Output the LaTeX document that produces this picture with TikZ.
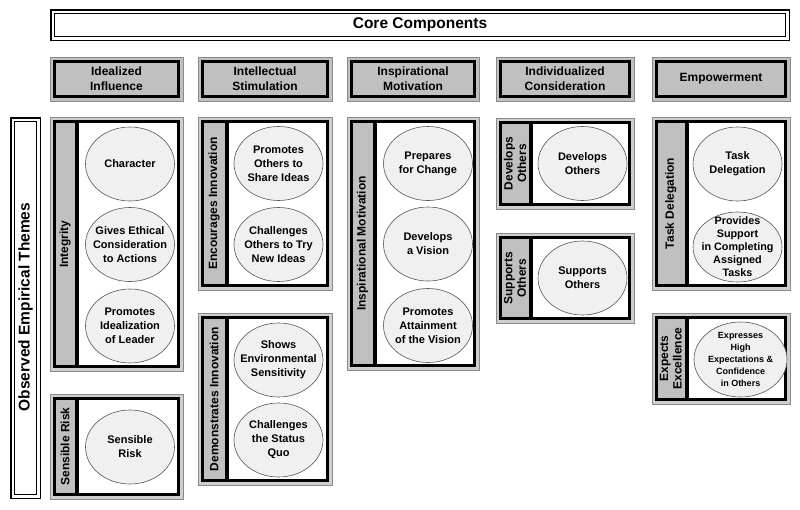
\documentclass[tikz,border=0pt]{standalone}
\usepackage{fontspec}
\setmainfont{Liberation Sans}
\definecolor{stripgray}{HTML}{C0C0C0}
\definecolor{ringgray}{HTML}{CFCFCF}
\definecolor{edgegray}{HTML}{8A8A8A}
\definecolor{ellfill}{HTML}{F0F0F0}
\definecolor{elldraw}{HTML}{555555}
\usetikzlibrary{shapes.geometric}
\tikzset{
  outerline/.style={draw=edgegray, line width=0.8pt},
  blackline/.style={draw=black, line width=3.5pt},
  striplabel/.style={rotate=90, font=\bfseries\fontsize{12}{13.5}\selectfont, align=center, inner sep=0pt},
  headlabel/.style={font=\bfseries\fontsize{12}{15}\selectfont, align=center, inner sep=0pt},
  theme/.style={ellipse, draw=elldraw, line width=0.6pt, fill=ellfill, minimum width=89pt, minimum height=74pt, inner sep=-30pt, align=center, font=\bfseries\fontsize{11}{14}\selectfont},
}
% name, x1, y1, x2, y2, divider x, label
\newcommand\themebox[7]{%
  \fill[ringgray] (#2,#3) rectangle (#4,#5);
  \draw[outerline] (#2,#3) rectangle (#4,#5);
  \fill[stripgray] (#2+3,#3+3) rectangle (#6,#5-3);
  \fill[white] (#6,#3+3) rectangle (#4-3,#5-3);
  \draw[blackline] (#2+4.5,#3+4.5) rectangle (#4-4.5,#5-4.5);
  \draw[draw=black, line width=4pt] (#6,#3+3) -- (#6,#5-3);
  \node[striplabel] (#1) at ({(#2+#6)/2+1.5},{(#3+#5)/2}) {#7};
}
% name, x1, x2, label
\newcommand\headbox[4]{%
  \fill[stripgray] (#2,57) rectangle (#3,101);
  \draw[outerline] (#2,57) rectangle (#3,101);
  \draw[blackline] (#2+4.5,61.5) rectangle (#3-4.5,96.5);
  \node[headlabel] (#1) at ({(#2+#3)/2},79) {#4};
}
\begin{document}
\begin{tikzpicture}[x=1pt,y=-1pt]
\useasboundingbox (0,0) rectangle (800,509);
\fill[white] (0,0) rectangle (800,509);

% Core Components
\draw[line width=1.5pt] (50.75,9.75) rectangle (789.25,40.25);
\draw[line width=1pt] (54.5,13.5) rectangle (785.5,36.5);
\node[font=\bfseries\fontsize{15.5}{18}\selectfont] (core) at (420,25) {Core Components};

% Observed Empirical Themes
\draw[line width=1.5pt] (10.75,117.75) rectangle (40.25,498.25);
\draw[line width=1pt] (14.5,121.5) rectangle (36.5,494.5);
\node[rotate=90, font=\bfseries\fontsize{15.5}{18}\selectfont] (observed) at (25.5,307) {Observed Empirical Themes};

% headers
\headbox{h1}{50}{183}{Idealized\\Influence}
\headbox{h2}{198}{332}{Intellectual\\Stimulation}
\headbox{h3}{347}{479}{Inspirational\\Motivation}
\headbox{h4}{496}{634}{Individualized\\Consideration}
\headbox{h5}{652}{790}{Empowerment}

% theme boxes
\themebox{integrity}{50}{117}{183}{371}{77}{Integrity}
\themebox{risk}{50}{394}{183}{499}{77}{Sensible Risk}
\themebox{encourages}{198}{117}{332}{290}{227}{Encourages Innovation}
\themebox{demonstrates}{198}{313}{332}{485}{227}{Demonstrates Innovation}
\themebox{inspirational}{347}{117}{479}{370}{375}{Inspirational Motivation}
\themebox{develops}{496}{118}{634}{209}{531}{Develops\\Others}
\themebox{supports}{496}{233}{634}{323}{531}{Supports\\Others}
\themebox{delegation}{652}{117}{790}{290}{686.5}{Task Delegation}
\themebox{excellence}{652}{313}{790}{404}{686.5}{Expects\\Excellence}

% ellipses
\node[theme] (e1) at (130,164) {Character};
\node[theme] (e2) at (130,244.5) {Gives Ethical\\Consideration\\to Actions};
\node[theme] (e3) at (130,326) {Promotes\\Idealization\\of Leader};
\node[theme] (e4) at (130,447) {Sensible\\Risk};
\node[theme] (e5) at (278.5,163.5) {Promotes\\Others to\\Share Ideas};
\node[theme] (e6) at (278.5,244.5) {Challenges\\Others to Try\\New Ideas};
\node[theme] (e7) at (278.5,360) {Shows\\Environmental\\Sensitivity};
\node[theme] (e8) at (278.5,440) {Challenges\\the Status\\Quo};
\node[theme] (e9) at (428,163.5) {Prepares\\for Change};
\node[theme] (e10) at (428,244) {Develops\\a Vision};
\node[theme] (e11) at (428,325.5) {Promotes\\Attainment\\of the Vision};
\node[theme] (e12) at (582.5,163.5) {Develops\\Others};
\node[theme] (e13) at (582.5,278) {Supports\\Others};
\node[theme] (e14) at (737.5,164) {Task\\Delegation};
\node[theme, minimum height=70pt, font=\bfseries\fontsize{10.8}{13}\selectfont] (e15) at (737.5,247) {Provides\\Support\\in Completing\\Assigned\\Tasks};
\node[theme, minimum width=93pt, minimum height=75pt, font=\bfseries\fontsize{9}{11.8}\selectfont] (e16) at (740.5,359.5) {Expresses\\High\\Expectations \&\\Confidence\\in Others};
\end{tikzpicture}
\end{document}
